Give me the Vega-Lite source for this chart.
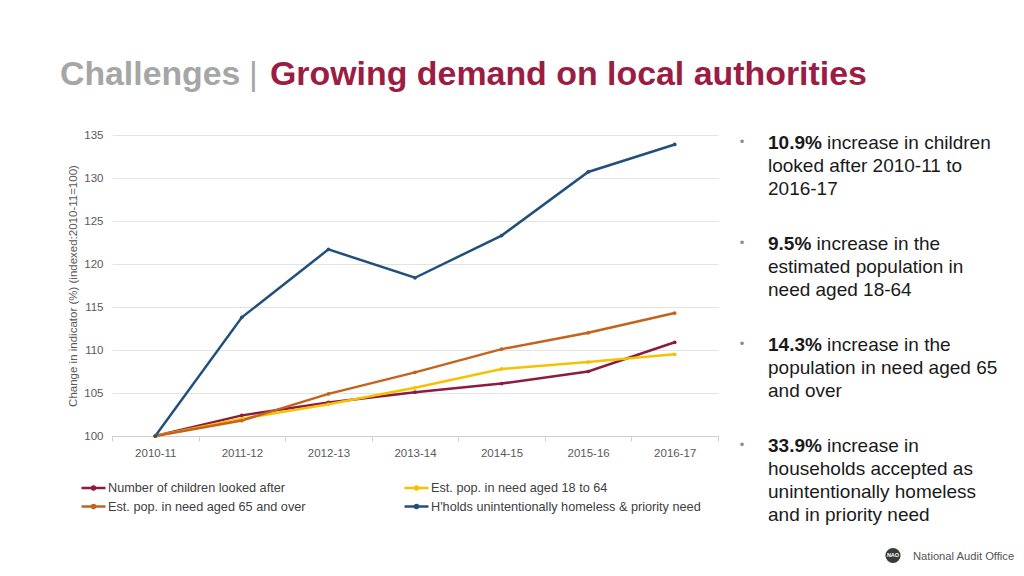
{
  "$schema": "https://vega.github.io/schema/vega-lite/v6.json",
  "background": "white",
  "padding": {"left": 60, "top": 50, "right": 5, "bottom": 5},
  "bounds": "flush",
  "spacing": 15,
  "config": {
    "font": "Liberation Sans",
    "view": {"stroke": null}
  },
  "vconcat": [
    {
      "width": 606,
      "height": 70,
      "data": {"values": [
        {"part": "a", "label": "Challenges"},
        {"part": "b", "label": "|"},
        {"part": "c", "label": "Growing demand on local authorities"}
      ]},
      "encoding": {"x": {"value": 0}, "text": {"field": "label"}},
      "layer": [
        {"transform": [{"filter": "datum.part === 'a'"}],
         "mark": {"type": "text", "align": "left", "baseline": "alphabetic", "fontSize": 33.8, "fontWeight": "bold", "color": "#a6a6a6", "dx": -52}},
        {"transform": [{"filter": "datum.part === 'b'"}],
         "mark": {"type": "text", "align": "left", "baseline": "alphabetic", "fontSize": 33.8, "fontWeight": "normal", "color": "#a6a6a6", "dx": 137}},
        {"transform": [{"filter": "datum.part === 'c'"}],
         "mark": {"type": "text", "align": "left", "baseline": "alphabetic", "fontSize": 33.9, "fontWeight": "bold", "color": "#9b1d43", "dx": 158}}
      ]
    },
    {
      "bounds": "flush",
      "spacing": 50,
      "hconcat": [
        {
          "width": 606,
          "height": 301,
          "data": {"values": [
            {"year": "2010-11", "series": "Number of children looked after", "value": 100},
            {"year": "2011-12", "series": "Number of children looked after", "value": 102.4},
            {"year": "2012-13", "series": "Number of children looked after", "value": 103.9},
            {"year": "2013-14", "series": "Number of children looked after", "value": 105.1},
            {"year": "2014-15", "series": "Number of children looked after", "value": 106.1},
            {"year": "2015-16", "series": "Number of children looked after", "value": 107.5},
            {"year": "2016-17", "series": "Number of children looked after", "value": 110.9},
            {"year": "2010-11", "series": "Est. pop. in need aged 18 to 64", "value": 100},
            {"year": "2011-12", "series": "Est. pop. in need aged 18 to 64", "value": 102.0},
            {"year": "2012-13", "series": "Est. pop. in need aged 18 to 64", "value": 103.7},
            {"year": "2013-14", "series": "Est. pop. in need aged 18 to 64", "value": 105.6},
            {"year": "2014-15", "series": "Est. pop. in need aged 18 to 64", "value": 107.8},
            {"year": "2015-16", "series": "Est. pop. in need aged 18 to 64", "value": 108.6},
            {"year": "2016-17", "series": "Est. pop. in need aged 18 to 64", "value": 109.5},
            {"year": "2010-11", "series": "Est. pop. in need aged 65 and over", "value": 100},
            {"year": "2011-12", "series": "Est. pop. in need aged 65 and over", "value": 101.8},
            {"year": "2012-13", "series": "Est. pop. in need aged 65 and over", "value": 104.9},
            {"year": "2013-14", "series": "Est. pop. in need aged 65 and over", "value": 107.4},
            {"year": "2014-15", "series": "Est. pop. in need aged 65 and over", "value": 110.1},
            {"year": "2015-16", "series": "Est. pop. in need aged 65 and over", "value": 112.0},
            {"year": "2016-17", "series": "Est. pop. in need aged 65 and over", "value": 114.3},
            {"year": "2010-11", "series": "H'holds unintentionally homeless & priority need", "value": 100},
            {"year": "2011-12", "series": "H'holds unintentionally homeless & priority need", "value": 113.8},
            {"year": "2012-13", "series": "H'holds unintentionally homeless & priority need", "value": 121.7},
            {"year": "2013-14", "series": "H'holds unintentionally homeless & priority need", "value": 118.4},
            {"year": "2014-15", "series": "H'holds unintentionally homeless & priority need", "value": 123.3},
            {"year": "2015-16", "series": "H'holds unintentionally homeless & priority need", "value": 130.7},
            {"year": "2016-17", "series": "H'holds unintentionally homeless & priority need", "value": 133.9}
          ]},
          "mark": {"type": "line", "strokeWidth": 2.5, "point": {"filled": true, "size": 14}},
          "encoding": {
            "x": {
              "field": "year", "type": "ordinal", "bandPosition": 0.5,
              "scale": {"type": "band", "paddingInner": 0, "paddingOuter": 0},
              "axis": {"title": null, "labelAngle": 0, "tickBand": "extent", "domainColor": "#d0d0d0", "tickColor": "#d0d0d0", "tickSize": 5, "labelFontSize": 11.5, "labelColor": "#595959", "labelPadding": 6, "grid": false}
            },
            "y": {
              "field": "value", "type": "quantitative",
              "scale": {"domain": [100, 135], "nice": false, "zero": false},
              "axis": {"title": "Change in indicator (%) (indexed:2010-11=100)", "values": [100, 105, 110, 115, 120, 125, 130, 135], "domain": false, "ticks": false, "labelPadding": 9, "labelFontSize": 11.5, "labelColor": "#595959", "gridColor": "#e3e3e3", "titleFontSize": 11.5, "titleFontWeight": "normal", "titleColor": "#595959", "titlePadding": 5}
            },
            "color": {
              "field": "series", "type": "nominal",
              "scale": {
                "domain": ["Number of children looked after", "Est. pop. in need aged 18 to 64", "Est. pop. in need aged 65 and over", "H'holds unintentionally homeless & priority need"],
                "range": ["#8b1c3d", "#f6c200", "#c5621b", "#22507b"]
              },
              "legend": {
                "title": null, "orient": "none", "legendX": -26, "legendY": 430, "direction": "horizontal", "columns": 2,
                "columnPadding": 93, "rowPadding": 4, "padding": 0,
                "symbolType": "M-2,0L2,0M-0.25,0A0.25,0.25 0 1,0 0.25,0A0.25,0.25 0 1,0 -0.25,0",
                "symbolSize": 144, "symbolStrokeWidth": 2.5, "labelFontSize": 12.7, "labelColor": "#404040", "labelOffset": 7, "labelLimit": 400
              }
            }
          }
        },
        {
          "width": 230,
          "height": 432,
          "data": {"values": [
            {"k": 1, "bold": "10.9%", "first": "increase in children", "rest": "looked after 2010-11 to\n2016-17"},
            {"k": 2, "bold": "9.5%", "first": "increase in the", "rest": "estimated population in\nneed aged 18-64"},
            {"k": 3, "bold": "14.3%", "first": "increase in the", "rest": "population in need aged 65\nand over"},
            {"k": 4, "bold": "33.9%", "first": "increase in", "rest": "households accepted as\nunintentionally homeless\nand in priority need"},
            {"k": 5, "logo": "National Audit Office", "badge": "NAO"}
          ]},
          "encoding": {
            "x": {"value": 0},
            "y": {"field": "k", "type": "ordinal", "scale": {"type": "point", "padding": 0.1334}, "axis": null}
          },
          "layer": [
            {"transform": [{"filter": "datum.k <= 4"}],
             "mark": {"type": "text", "text": "•", "align": "center", "baseline": "alphabetic", "fontSize": 13, "color": "#8c8c8c", "dx": -26, "dy": -3}},
            {"transform": [{"filter": "datum.k <= 4"}],
             "mark": {"type": "text", "align": "left", "baseline": "alphabetic", "fontSize": 19, "fontWeight": "bold", "color": "#1a1a1a"},
             "encoding": {"text": {"field": "bold"}}},
            {"transform": [{"filter": "datum.k <= 4 && datum.k !== 2"}],
             "mark": {"type": "text", "align": "left", "baseline": "alphabetic", "fontSize": 19, "color": "#1a1a1a", "dx": 59},
             "encoding": {"text": {"field": "first"}}},
            {"transform": [{"filter": "datum.k === 2"}],
             "mark": {"type": "text", "align": "left", "baseline": "alphabetic", "fontSize": 19, "color": "#1a1a1a", "dx": 48.6},
             "encoding": {"text": {"field": "first"}}},
            {"transform": [{"filter": "datum.k <= 4"}],
             "mark": {"type": "text", "align": "left", "baseline": "top", "fontSize": 19, "color": "#1a1a1a", "dy": 8, "lineHeight": 23, "lineBreak": "\n"},
             "encoding": {"text": {"field": "rest"}}},
            {"transform": [{"filter": "datum.k === 5"}],
             "mark": {"type": "point", "filled": true, "size": 230, "color": "#3a3a3a", "opacity": 1},
             "encoding": {"xOffset": {"value": 125}, "yOffset": {"value": 2}}},
            {"transform": [{"filter": "datum.k === 5"}],
             "mark": {"type": "text", "align": "center", "baseline": "middle", "fontSize": 5.5, "fontWeight": "bold", "color": "white", "dx": 125, "dy": 2},
             "encoding": {"text": {"field": "badge"}}},
            {"transform": [{"filter": "datum.k === 5"}],
             "mark": {"type": "text", "align": "left", "baseline": "alphabetic", "fontSize": 11.2, "color": "#555555", "dx": 145, "dy": 7},
             "encoding": {"text": {"field": "logo"}}}
          ]
        }
      ]
    }
  ]
}
